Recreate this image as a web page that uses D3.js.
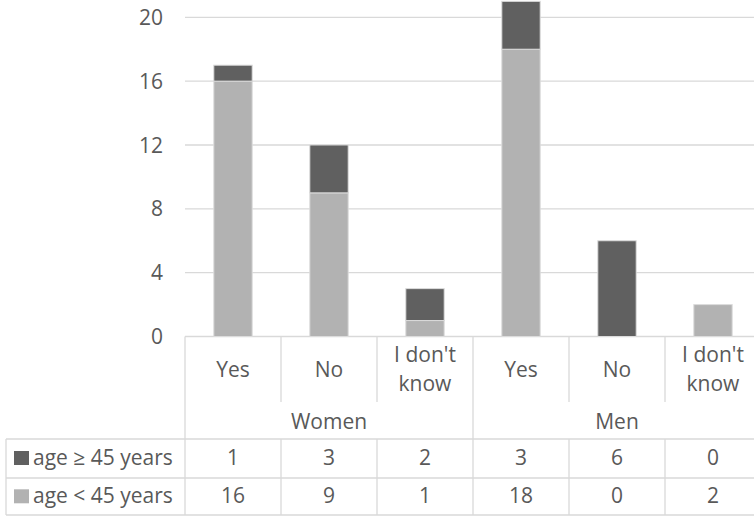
<!DOCTYPE html>
<html>
<head>
<meta charset="utf-8">
<script src="https://cdn.jsdelivr.net/npm/d3@7"></script>
<style>
  html, body { margin: 0; padding: 0; background: #fff; }
  svg { display: block; }
  text { font-family: "Open Sans", sans-serif; fill: #595959; }
</style>
</head>
<body>
<svg id="chart" width="754" height="517"></svg>
<script>
// ---- data ----
const groups = ["Women", "Men"];
const answers = ["Yes", "No", "I don't know"];
const seriesNames = ["age ≥ 45 years", "age < 45 years"];
const olderValues = [1, 3, 2, 3, 6, 0];     // age ≥ 45 years
const youngerValues = [16, 9, 1, 18, 0, 2]; // age < 45 years
const yTicks = [0, 4, 8, 12, 16, 20];

// ---- build rows ----
const categories = [];
groups.forEach((g, gi) => answers.forEach((a, ai) => categories.push({ id: g + "|" + a, group: g, answer: a })));
const rows = categories.map((c, i) => ({ id: c.id, younger: youngerValues[i], older: olderValues[i] }));

const colors = { older: "#606060", younger: "#b2b2b2" };
const lineColor = "#d9d9d9";
const fontSize = 21;

const svg = d3.select("#chart");

const plotLeft = 185, plotRight = 761;
const x = d3.scaleBand().domain(categories.map(c => c.id)).range([plotLeft, plotRight])
  .paddingInner(0.6).paddingOuter(0.3);
const step = x.step();
const y = d3.scaleLinear().domain([0, 20]).range([336.5, 17.3]);

// gridlines
svg.append("g").selectAll("line").data(yTicks).join("line")
  .attr("x1", plotLeft).attr("x2", plotRight)
  .attr("y1", d => y(d)).attr("y2", d => y(d))
  .attr("stroke", lineColor).attr("stroke-width", 1.3);

// y tick labels
svg.append("g").selectAll("text").data(yTicks).join("text")
  .attr("x", 163).attr("y", d => y(d))
  .attr("dy", "0.36em")
  .attr("text-anchor", "end")
  .style("font-size", fontSize + "px")
  .text(d => d);

// stacked bars
const stack = d3.stack().keys(["younger", "older"]);
const series = stack(rows);
svg.append("g").selectAll("g").data(series).join("g")
  .attr("fill", s => colors[s.key])
  .selectAll("rect").data(s => s.filter(d => d[1] - d[0] > 0)).join("rect")
  .attr("x", d => x(d.data.id))
  .attr("width", x.bandwidth())
  .attr("y", d => y(d[1]))
  .attr("height", d => y(d[0]) - y(d[1]))
  .attr("stroke", "#dcdcdc").attr("stroke-width", 1);

// ---- data table ----
const axisY = y(0);
const catRowBottom = 402, groupRowBottom = 439, row1Bottom = 478, row2Bottom = 515;
const tableLeft = 6;
const lines = svg.append("g").attr("stroke", lineColor).attr("stroke-width", 1.3);

// horizontal lines
lines.append("line").attr("x1", tableLeft).attr("x2", plotRight).attr("y1", groupRowBottom).attr("y2", groupRowBottom);
lines.append("line").attr("x1", tableLeft).attr("x2", plotRight).attr("y1", row1Bottom).attr("y2", row1Bottom);
lines.append("line").attr("x1", tableLeft).attr("x2", plotRight).attr("y1", row2Bottom).attr("y2", row2Bottom);
// left border of legend column
lines.append("line").attr("x1", tableLeft).attr("x2", tableLeft).attr("y1", groupRowBottom).attr("y2", row2Bottom);

// vertical dividers
const boundaries = d3.range(categories.length + 1).map(i => plotLeft + i * step);
boundaries.forEach((bx, i) => {
  const isGroupEdge = (i % answers.length === 0);
  if (isGroupEdge) {
    lines.append("line").attr("x1", bx).attr("x2", bx).attr("y1", axisY).attr("y2", row2Bottom);
  } else {
    lines.append("line").attr("x1", bx).attr("x2", bx).attr("y1", axisY).attr("y2", catRowBottom);
    lines.append("line").attr("x1", bx).attr("x2", bx).attr("y1", groupRowBottom).attr("y2", row2Bottom);
  }
});

// category labels (wrapped)
const catLabels = svg.append("g");
categories.forEach(c => {
  const cx = x(c.id) + x.bandwidth() / 2;
  const t = catLabels.append("text").attr("text-anchor", "middle").style("font-size", fontSize + "px");
  const words = c.answer.split(" ");
  const maxW = step - 10;
  const outLines = [];
  let cur = [];
  words.forEach(w => {
    const trial = cur.concat([w]).join(" ");
    t.text(trial);
    if (t.node().getComputedTextLength() > maxW && cur.length) {
      outLines.push(cur.join(" "));
      cur = [w];
    } else cur.push(w);
  });
  outLines.push(cur.join(" "));
  t.text(null);
  const n = outLines.length;
  outLines.forEach((ln, i) => {
    t.append("tspan").attr("x", cx).attr("y", 376.7 + (i - (n - 1) / 2) * 29).text(ln);
  });
});

// group labels
svg.append("g").selectAll("text").data(groups).join("text")
  .attr("x", (g, gi) => plotLeft + (gi + 0.5) * answers.length * step)
  .attr("y", 429)
  .attr("text-anchor", "middle")
  .style("font-size", fontSize + "px")
  .text(d => d);

// legend rows with values
const tableRows = [
  { name: seriesNames[0], key: "older", values: olderValues, baseline: 465 },
  { name: seriesNames[1], key: "younger", values: youngerValues, baseline: 503.3 }
];
tableRows.forEach(r => {
  svg.append("rect").attr("x", 14).attr("y", r.baseline - 14).attr("width", 15).attr("height", 14)
    .attr("fill", colors[r.key]);
  svg.append("text").attr("x", 33).attr("y", r.baseline)
    .style("font-size", fontSize + "px").text(r.name);
  svg.append("g").selectAll("text").data(r.values).join("text")
    .attr("x", (v, i) => x(categories[i].id) + x.bandwidth() / 2)
    .attr("y", r.baseline)
    .attr("text-anchor", "middle")
    .style("font-size", fontSize + "px")
    .text(v => v);
});
</script>
</body>
</html>
